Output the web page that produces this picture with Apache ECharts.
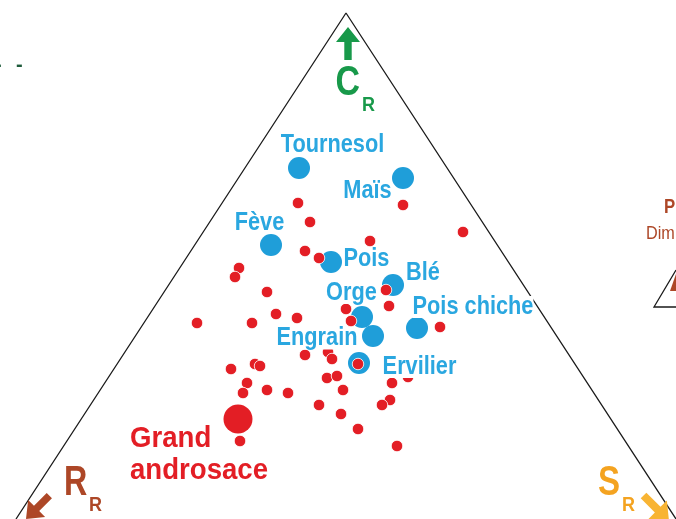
<!DOCTYPE html>
<html><head><meta charset="utf-8">
<script src="https://cdn.jsdelivr.net/npm/echarts@6.0.0/dist/echarts.min.js"></script>
<style>html,body{margin:0;padding:0;background:#fff;overflow:hidden}#c{width:676px;height:519px}</style>
</head><body><div id="c"></div>
<script>
// ---- data (in the plot's own x/y units) ----
const crops  = ['Tournesol', 'Maïs', 'Fève', 'Pois', 'Blé', 'Orge', 'Pois chiche', 'Engrain', 'Ervilier'];
const cropX  = [299, 403, 271, 331, 393, 362, 417, 373, 359];
const cropY  = [168, 178, 245, 262, 285, 317, 328, 336, 363];

const speciesX = [298, 403, 310, 463, 370, 305, 319, 239, 235, 386, 267, 389, 346, 276, 297, 197, 252, 351, 440,
                  305, 328, 332, 358, 231, 255, 260, 247, 243, 267, 288, 327, 337, 343, 319, 341, 358, 240, 408, 392, 390, 382, 397];
const speciesY = [203, 205, 222, 232, 241, 251, 258, 268, 277, 290, 292, 306, 309, 314, 318, 323, 323, 321, 327,
                  355, 352, 359, 364, 369, 364, 366, 383, 393, 390, 393, 378, 376, 390, 405, 414, 429, 441, 377, 383, 400, 405, 446];

const focusLines = ['Grand', 'androsace'];
const focusX = [238];
const focusY = [419];

const triangleX = [16, 346, 676];
const triangleY = [519, 13, 519];

// ---- styling / layout (not data) ----
const FONT = '"Liberation Sans",Arial,sans-serif';
const RED = '#e31e25', BLUE = '#1f9ed9', BLUE_TXT = '#2aa7e0';
const GREEN = '#18994a', BROWN = '#ad4727', ORANGE = '#f4a320', ORANGE2 = '#f8b433';
const labelOffsets = {
  'Tournesol': [33.5, -23], 'Maïs': [-35.5, 13], 'Fève': [-11.5, -22], 'Pois': [35.5, -3],
  'Blé': [30, -11.5], 'Orge': [-10.5, -24], 'Pois chiche': [56, -21], 'Engrain': [-56, 2.5], 'Ervilier': [60.5, 4]
};
const focusOffsets = [[-108, 19.5], [-108, 51.5]];

const zip = (xs, ys) => xs.map((x, i) => [x, ys[i]]);

function arrow(tip, dir, headLen, headHalf, shaftLen, shaftHalf) {
  const [dx, dy] = dir; const n = Math.hypot(dx, dy); const ux = dx / n, uy = dy / n;
  const px = -uy, py = ux;
  const hb = [tip[0] - ux * headLen, tip[1] - uy * headLen];
  const tl = [hb[0] - ux * shaftLen, hb[1] - uy * shaftLen];
  return [tip,
    [hb[0] + px * headHalf, hb[1] + py * headHalf],
    [hb[0] + px * shaftHalf, hb[1] + py * shaftHalf],
    [tl[0] + px * shaftHalf, tl[1] + py * shaftHalf],
    [tl[0] - px * shaftHalf, tl[1] - py * shaftHalf],
    [hb[0] - px * shaftHalf, hb[1] - py * shaftHalf],
    [hb[0] - px * headHalf, hb[1] - py * headHalf]];
}
function txt(x, y, text, font, fill, align, sx, extra) {
  return { type: 'text', x: x, y: y, z: 10, silent: true, scaleX: sx || 1,
    style: Object.assign({ text: text, font: font, fill: fill, textAlign: align || 'left', textVerticalAlign: 'middle' }, extra || {}) };
}

const chart = echarts.init(document.getElementById('c'), null, { renderer: 'canvas' });
chart.setOption({
  animation: false,
  backgroundColor: '#fff',
  grid: { left: 0, right: 0, top: 0, bottom: 0 },
  xAxis: { type: 'value', min: 0, max: 676, show: false },
  yAxis: { type: 'value', min: 0, max: 519, inverse: true, show: false },
  series: [
    { type: 'line', data: zip(triangleX, triangleY), symbol: 'none', z: 1,
      lineStyle: { color: '#1a1a1a', width: 1.3 }, silent: true },
    { type: 'scatter', data: zip(cropX, cropY), symbolSize: 22, z: 2,
      itemStyle: { color: BLUE, opacity: 1 } },
    { type: 'scatter', data: zip(speciesX, speciesY), symbolSize: 11.5, z: 3,
      itemStyle: { color: RED, borderColor: '#fff', borderWidth: 0.8, opacity: 1 } },
    { type: 'scatter', data: zip(focusX, focusY), symbolSize: 29, z: 3,
      itemStyle: { color: RED, opacity: 1 } }
  ]
});

// Labels: anchored to the data points through the chart's own scales
const px = (x, y) => chart.convertToPixel({ seriesIndex: 1 }, [x, y]);
const labels = crops.map((c, i) => {
  const p = px(cropX[i], cropY[i]); const o = labelOffsets[c];
  return txt(p[0] + o[0], p[1] + o[1], c, 'bold 25px ' + FONT, BLUE_TXT, 'center', 0.87,
    { backgroundColor: '#fff', lineHeight: 22 });
});
const fp = px(focusX[0], focusY[0]);
focusLines.forEach((t, i) => {
  labels.push(txt(fp[0] + focusOffsets[i][0], fp[1] + focusOffsets[i][1], t, 'bold 30px ' + FONT, RED, 'left', 0.92));
});

chart.setOption({
  graphic: labels.concat([
    { type: 'polygon', z: 10, silent: true, shape: { points: arrow([348, 27], [0, -1], 15, 12, 18, 3.7) }, style: { fill: GREEN } },
    { type: 'polygon', z: 10, silent: true, shape: { points: arrow([26, 519], [-1, 1], 15, 12, 18, 3.7) }, style: { fill: BROWN } },
    { type: 'polygon', z: 10, silent: true, shape: { points: arrow([669, 521], [1, 1], 16, 13, 20, 4) }, style: { fill: ORANGE2 } },
    txt(335.5, 83, 'C', 'bold 43px ' + FONT, GREEN, 'left', 0.79),
    txt(362, 105, 'R', 'bold 20px ' + FONT, GREEN, 'left', 0.9),
    txt(64, 483, 'R', 'bold 43px ' + FONT, BROWN, 'left', 0.75),
    txt(89, 505, 'R', 'bold 20px ' + FONT, BROWN, 'left', 0.9),
    txt(598, 483, 'S', 'bold 43px ' + FONT, ORANGE, 'left', 0.77),
    txt(622, 505, 'R', 'bold 20px ' + FONT, ORANGE, 'left', 0.9),
    txt(664, 207, 'P', 'bold 21px ' + FONT, BROWN, 'left', 0.8),
    txt(646, 234.5, 'Dim', '18px ' + FONT, BROWN, 'left', 0.9),
    txt(16, 65, '-', 'bold 20px ' + FONT, '#1e5b3b'),
    txt(-5, 65, '-', 'bold 20px ' + FONT, '#1e5b3b'),
    { type: 'polyline', z: 10, silent: true, shape: { points: [[676, 307], [654, 307], [676, 270]] },
      style: { stroke: '#1a1a1a', lineWidth: 1.3, fill: null } },
    { type: 'polygon', z: 10, silent: true, shape: { points: [[670, 291], [676, 274], [676, 291]] }, style: { fill: BROWN } }
  ])
});
</script></body></html>
